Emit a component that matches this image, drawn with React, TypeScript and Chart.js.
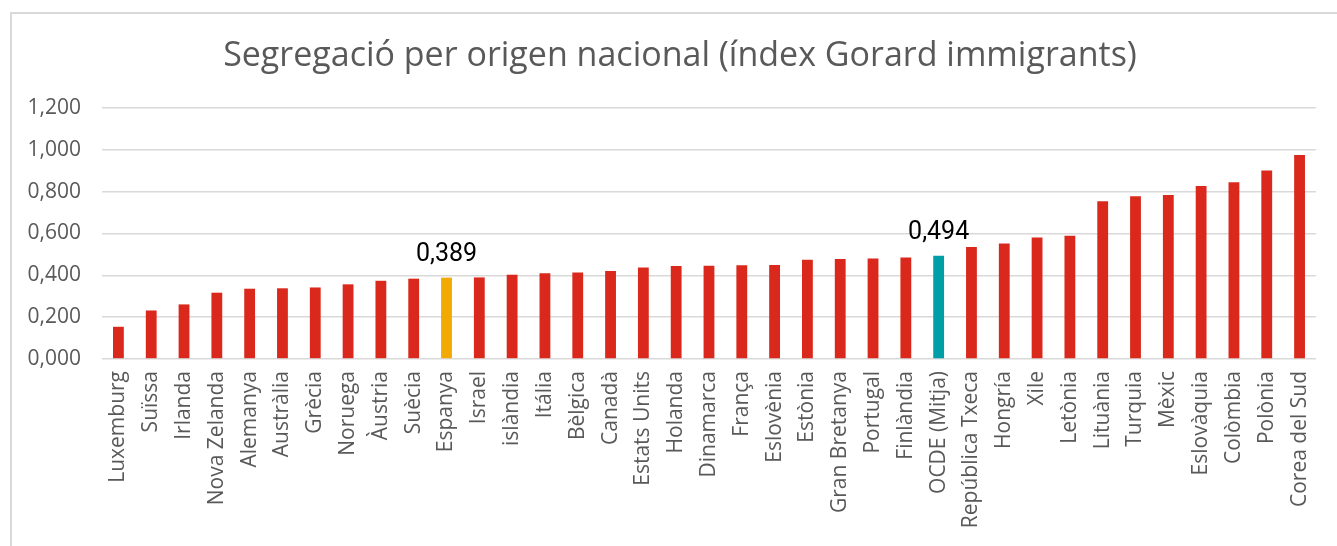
import React, { useEffect, useRef } from "react";
import { Chart, registerables } from "chart.js";

Chart.register(...registerables);

const TITLE = "Segregació per origen nacional (índex Gorard immigrants)";

const categories: string[] = [
  "Luxemburg", "Suïssa", "Irlanda", "Nova Zelanda", "Alemanya", "Austràlia",
  "Grècia", "Noruega", "Àustria", "Suècia", "Espanya", "Israel", "islàndia",
  "Itália", "Bèlgica", "Canadà", "Estats Units", "Holanda", "Dinamarca",
  "França", "Eslovènia", "Estònia", "Gran Bretanya", "Portugal", "Finlàndia",
  "OCDE (Mitja)", "República Txeca", "Hongría", "Xile", "Letònia", "Lituània",
  "Turquia", "Mèxic", "Eslovàquia", "Colòmbia", "Polònia", "Corea del Sud",
];

const values: number[] = [
  0.154, 0.232, 0.261, 0.317, 0.336, 0.338,
  0.342, 0.357, 0.374, 0.384, 0.389, 0.39, 0.403,
  0.41, 0.413, 0.421, 0.438, 0.445, 0.446,
  0.448, 0.45, 0.475, 0.478, 0.481, 0.485,
  0.494, 0.536, 0.552, 0.581, 0.589, 0.754,
  0.778, 0.784, 0.827, 0.845, 0.901, 0.975,
];

const highlightSpain = "Espanya";
const highlightOECD = "OCDE (Mitja)";
const labeledCategories: string[] = [highlightSpain, highlightOECD];

const yTicks: number[] = [0, 0.2, 0.4, 0.6, 0.8, 1.0, 1.2];

const RED = "#DA291C";
const ORANGE = "#F2A900";
const TEAL = "#009FA8";

const fmt = (v: number) => v.toFixed(3).replace(".", ",");

const barColors = categories.map((c) =>
  c === highlightSpain ? ORANGE : c === highlightOECD ? TEAL : RED
);

const valueLabelPlugin = {
  id: "valueLabels",
  afterDatasetsDraw(chart: any) {
    const ctx = chart.ctx;
    const meta = chart.getDatasetMeta(0);
    ctx.save();
    ctx.font = "25px Roboto";
    ctx.fillStyle = "#000000";
    ctx.textAlign = "center";
    ctx.textBaseline = "alphabetic";
    categories.forEach((c, i) => {
      if (!labeledCategories.includes(c)) return;
      const el = meta.data[i];
      ctx.fillText(fmt(values[i]), el.x, el.y - 17);
    });
    ctx.restore();
  },
};

const titlePlugin = {
  id: "centeredTitle",
  afterDraw(chart: any) {
    const ctx = chart.ctx;
    ctx.save();
    ctx.font = "34px 'Open Sans'";
    ctx.fillStyle = "#595959";
    ctx.textAlign = "center";
    ctx.textBaseline = "alphabetic";
    ctx.fillText(TITLE, 680, 66);
    ctx.restore();
  },
};

export default function App() {
  const ref = useRef<HTMLCanvasElement | null>(null);

  useEffect(() => {
    if (!ref.current) return;
    const chart = new Chart(ref.current, {
      type: "bar",
      data: {
        labels: categories,
        datasets: [
          {
            data: values,
            backgroundColor: barColors,
            borderWidth: 0,
            barPercentage: 0.33,
            categoryPercentage: 1.0,
          },
        ],
      },
      options: {
        animation: false,
        responsive: false,
        maintainAspectRatio: false,
        layout: { padding: { left: 0, right: 18, top: 108, bottom: 0 } },
        plugins: {
          legend: { display: false },
          tooltip: { enabled: false },
          title: { display: false },
        },
        scales: {
          x: {
            grid: { display: false, drawTicks: false },
            border: { display: false },
            ticks: {
              color: "#595959",
              font: { family: "'Open Sans'", size: 21 },
              maxRotation: 90,
              minRotation: 90,
              autoSkip: false,
              padding: 12,
            },
            afterFit(scale: any) {
              scale.height = 187;
            },
          },
          y: {
            min: 0,
            max: 1.2,
            afterBuildTicks(scale: any) {
              scale.ticks = yTicks.map((v) => ({ value: v }));
            },
            grid: { color: "#d9d9d9", lineWidth: 1.6, drawTicks: false },
            border: { display: false },
            ticks: {
              color: "#595959",
              font: { family: "'Open Sans'", size: 21 },
              padding: 21,
              callback: (v: any) => fmt(Number(v)),
            },
            afterFit(scale: any) {
              scale.width = 102;
            },
          },
        },
      },
      plugins: [valueLabelPlugin, titlePlugin],
    });
    return () => chart.destroy();
  }, []);

  return (
    <div
      style={{
        position: "absolute",
        left: 0,
        top: 0,
        width: 1337,
        height: 546,
        overflow: "hidden",
        background: "#ffffff",
      }}
    >
      <div
        style={{
          position: "absolute",
          left: 10,
          top: 12,
          width: 1327,
          height: 534,
          boxSizing: "border-box",
          borderLeft: "2px solid #d9d9d9",
          borderTop: "2px solid #d9d9d9",
        }}
      />
      <canvas
        ref={ref}
        width={1337}
        height={546}
        style={{ position: "absolute", left: 0, top: 0, display: "block" }}
      />
    </div>
  );
}
